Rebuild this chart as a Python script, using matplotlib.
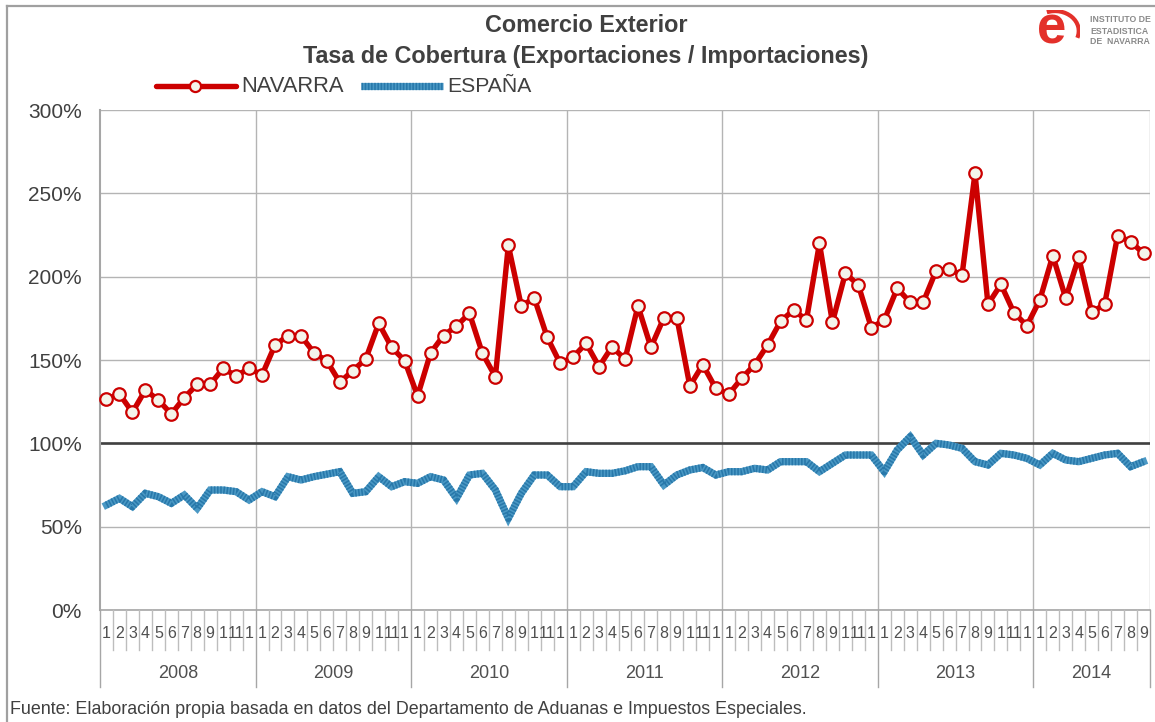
import matplotlib
matplotlib.use("Agg")
import matplotlib.pyplot as plt
import matplotlib.transforms as mtransforms
from matplotlib.lines import Line2D
from matplotlib.patches import Arc

plt.rcParams['font.family'] = ['Liberation Sans', 'DejaVu Sans']

# ---------------- data ----------------
years = ['2008', '2009', '2010', '2011', '2012', '2013', '2014']
months_per_year = [12, 12, 12, 12, 12, 12, 9]
month_labels = ['1', '2', '3', '4', '5', '6', '7', '8', '9', '1', '11', '1']

navarra = [
    126.6, 129.6, 118.6, 132.0, 126.0, 117.6, 127.4, 135.4, 135.4, 145.0, 140.4, 145.0,
    141.0, 159.0, 164.6, 164.6, 154.4, 149.4, 136.6, 143.6, 150.6, 172.0, 157.6, 149.6,
    128.4, 154.2, 164.7, 170.4, 178.0, 154.0, 140.0, 218.8, 182.4, 187.2, 163.6, 148.0,
    151.8, 160.0, 146.0, 158.0, 150.4, 182.4, 157.6, 175.4, 175.4, 134.4, 147.2, 133.0,
    129.4, 139.0, 147.2, 159.0, 173.2, 180.0, 174.0, 220.0, 172.6, 202.0, 195.0, 169.4,
    174.0, 193.0, 184.6, 184.6, 203.6, 204.6, 201.0, 262.0, 183.4, 195.4, 178.4, 170.6,
    186.0, 212.6, 187.0, 211.6, 178.6, 183.4, 224.6, 221.0, 214.0,
]
espana = [
    63, 67, 62, 70, 68, 64, 69, 61, 72, 72, 71, 66,
    71, 68, 80, 78, 80, 81.5, 83, 70, 71, 80, 74, 77,
    76, 80, 78, 67, 81, 82, 72, 55, 70, 81, 81, 74,
    74, 83, 82, 82, 83.5, 86, 86, 75, 81, 84, 85.5, 81,
    83, 83, 85, 84, 89, 89, 89, 83, 88, 93, 93, 93,
    83, 96, 104, 93, 100, 99, 97, 89, 87, 94, 93, 91,
    87, 94, 90, 89, 91, 93, 94, 86, 89,
]
reference_level = 100
yticks = [0, 50, 100, 150, 200, 250, 300]

title1 = 'Comercio Exterior'
title2 = 'Tasa de Cobertura (Exportaciones / Importaciones)'
source = 'Fuente: Elaboración propia basada en datos del Departamento de Aduanas e Impuestos Especiales.'

# ---------------- figure ----------------
W, H = 1155, 722
fig = plt.figure(figsize=(W / 100, H / 100), dpi=100)
fig.patch.set_facecolor('white')

def fx(px):
    return px / W

def fy(py):
    return 1 - py / H

ax = fig.add_axes([fx(100), fy(610), fx(1150) - fx(100), fy(110) - fy(610)])

n = len(navarra)
x = list(range(n))

TXT = '#404040'
GRID = '#b4b4b4'

ax.set_xlim(-0.5, n - 0.5)
ax.set_ylim(0, 300)
ax.set_yticks(yticks)
ax.set_yticklabels([f'{v}%' for v in yticks], fontsize=15, color=TXT)
ax.tick_params(axis='y', length=0, pad=13)
ax.set_xticks([])
ax.grid(False)
for v in yticks:
    ax.axhline(v, color=GRID, lw=1.0, zorder=0)

for s in ['top', 'right', 'bottom']:
    ax.spines[s].set_visible(False)
ax.spines['left'].set_color('#a6a6a6')
ax.spines['left'].set_linewidth(1.5)
ax.axvline(n - 0.5, color=GRID, lw=1.0, zorder=0)

# year boundaries / grid
bounds = [-0.5]
for m in months_per_year:
    bounds.append(bounds[-1] + m)
for b in bounds[1:-1]:
    ax.axvline(b, color=GRID, lw=1.0, zorder=0)

# reference line 100%
ax.axhline(reference_level, color='#404040', lw=1.9, zorder=2)

# Espana line (textured)
ax.plot(x, espana, color='#4a98c4', lw=5.2, solid_joinstyle='miter', zorder=3)
ax.plot(x, espana, color='#2878aa', lw=5.2, linestyle=(0, (0.22, 0.22)), zorder=3)

# Navarra line
ax.plot(x, navarra, color='#cc0000', lw=3.9, marker='o', markersize=9,
        markerfacecolor='#f4f4ea', markeredgecolor='#cc0000', markeredgewidth=1.6,
        zorder=4, clip_on=False)

# category axis below
trans = mtransforms.blended_transform_factory(ax.transData, ax.transAxes)
ax.plot([-0.5, n - 0.5], [0, 0], transform=trans, color='#a6a6a6', lw=1.2, clip_on=False)
i = 0
for yi, (yr, m) in enumerate(zip(years, months_per_year)):
    for k in range(m):
        ax.text(i, -0.047, month_labels[k], transform=trans, ha='center', va='center',
                fontsize=11.5, color='#505050')
        if k < m - 1:
            ax.plot([i + 0.5, i + 0.5], [0, -0.08], transform=trans, color='#bdbdbd',
                    lw=1.0, clip_on=False)
        i += 1
    ax.text((bounds[yi] + bounds[yi + 1]) / 2, -0.128, yr, transform=trans,
            ha='center', va='center', fontsize=13, color='#505050')
for b in bounds:
    ax.plot([b, b], [0, -0.154], transform=trans, color='#a6a6a6', lw=1.0, clip_on=False)

# titles
fig.text(fx(586), fy(25), title1, ha='center', va='center', fontsize=16.8,
         fontweight='bold', color=TXT)
fig.text(fx(586), fy(57), title2, ha='center', va='center', fontsize=16.8,
         fontweight='bold', color=TXT)

# legend (manual)
fig.add_artist(Line2D([fx(156), fx(236)], [fy(86), fy(86)], color='#cc0000', lw=3.9,
                      solid_capstyle='round'))
fig.add_artist(Line2D([fx(195)], [fy(86)], marker='o', markersize=8,
                      markerfacecolor='#f4f4ea', markeredgecolor='#cc0000',
                      markeredgewidth=1.6, linestyle='none'))
fig.text(fx(241), fy(86), 'NAVARRA', ha='left', va='center', fontsize=15.8, color=TXT)
fig.add_artist(Line2D([fx(361), fx(443)], [fy(86), fy(86)], color='#4a98c4', lw=5.2,
                      solid_capstyle='butt'))
fig.add_artist(Line2D([fx(361), fx(443)], [fy(86), fy(86)], color='#2878aa', lw=5.2,
                      linestyle=(0, (0.22, 0.22))))
fig.text(fx(447), fy(86), 'ESPAÑA', ha='left', va='center', fontsize=15.2, color=TXT)

# source
fig.text(fx(10), fy(709), source, ha='left', va='center', fontsize=12.9, color=TXT)

# outer border
fig.add_artist(Line2D([fx(7), fx(1160)], [fy(6), fy(6)], color='#a0a0a0', lw=1.6))
fig.add_artist(Line2D([fx(7), fx(7)], [fy(6), fy(730)], color='#a0a0a0', lw=1.6))

# logo
fig.text(fx(1052), fy(30), 'e', ha='center', va='center', fontsize=38,
         fontweight='bold', color='#e3302a')
logo_ax = fig.add_axes([fx(1030), fy(52), fx(1080) - fx(1030), fy(10) - fy(52)])
logo_ax.set_xlim(0, 1)
logo_ax.set_ylim(0, 1)
logo_ax.axis('off')
logo_ax.add_patch(Arc((0.5, 0.5), 0.95, 0.95, theta1=-20, theta2=110,
                      color='#e3302a', lw=3))
for j, t in enumerate(['INSTITUTO DE', 'ESTADISTICA', 'DE  NAVARRA']):
    fig.text(fx(1090), fy(20 + j * 11), t, ha='left', va='center', fontsize=6.3,
             fontweight='bold', color='#8a8a8a')

fig.savefig('out.png', dpi=100, facecolor='white')
